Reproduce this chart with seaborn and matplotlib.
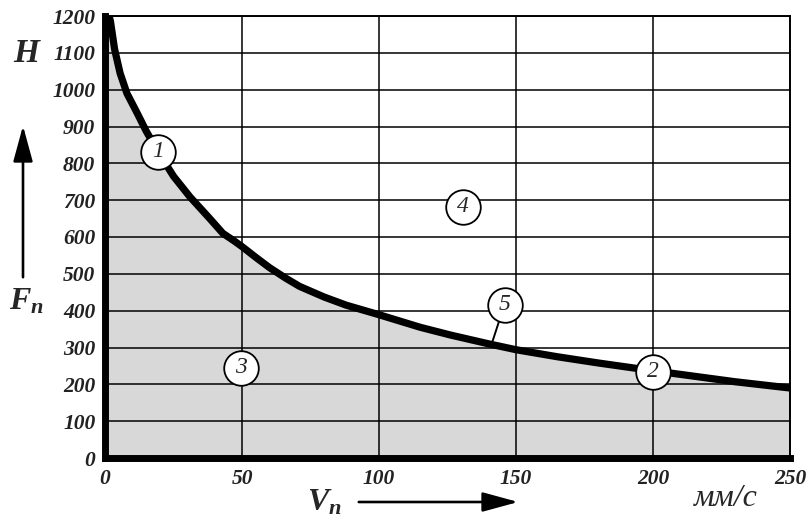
import numpy as np
import pandas as pd
import matplotlib
matplotlib.use("Agg")
import matplotlib.pyplot as plt
from matplotlib.patches import FancyArrowPatch
import seaborn as sns

# curve F_n(V_n)
speed = [1.5, 2, 3.5, 5.5, 8, 11.7, 15, 19.4, 25, 31, 38, 43, 47, 50, 55, 60,
         66, 71, 80, 88, 100, 115, 126, 140, 150, 165, 180, 200, 215, 230, 250]
force = [1200, 1185, 1110, 1045, 990, 937, 888, 831, 765, 709, 652, 610, 590,
         574, 545, 517, 488, 466, 437, 415, 389, 355, 334, 310, 294, 275, 258,
         237, 222, 207, 190]

# numbered callouts: label, V, F
marks = ["1", "2", "3", "4", "5"]
mark_v = [19.5, 200, 49.5, 130.5, 146]
mark_f = [831, 234, 245, 682, 416]

x_ticks = [0, 50, 100, 150, 200, 250]
y_ticks = list(range(0, 1300, 100))

sns.set_theme(style="white")
plt.rcParams["font.family"] = ["Liberation Serif", "DejaVu Serif"]
plt.rcParams["mathtext.fontset"] = "custom"
plt.rcParams["mathtext.it"] = "Liberation Serif:italic:bold"
plt.rcParams["mathtext.rm"] = "Liberation Serif:bold"

df = pd.DataFrame({"V": speed, "F": force})

fig = plt.figure(figsize=(8.1, 5.2), dpi=100)
ax = fig.add_axes([105 / 810, 1 - 458 / 520, 685 / 810, 442 / 520])

ax.fill_between(df["V"], df["F"], 0, color="#d8d8d8", zorder=0)
ax.fill_between([0, df["V"].iloc[0]], [1200, 1200], 0, color="#d8d8d8", zorder=0)
sns.lineplot(data=df, x="V", y="F", color="black", linewidth=5.2, ax=ax,
             zorder=3, solid_capstyle="butt")

ax.set_xlim(0, 250)
ax.set_ylim(0, 1200)
ax.set_xticks(x_ticks)
ax.set_yticks(y_ticks)
ax.grid(True, color="black", linewidth=1.1)
ax.set_axisbelow(False)
for line in ax.get_xgridlines() + ax.get_ygridlines():
    line.set_zorder(1)
ax.set_xlabel("")
ax.set_ylabel("")

for side in ["left", "bottom"]:
    ax.spines[side].set_linewidth(5)
    ax.spines[side].set_color("black")
for side in ["top", "right"]:
    ax.spines[side].set_linewidth(1.4)
    ax.spines[side].set_color("black")

ax.tick_params(length=0, labelsize=15.5)
ax.tick_params(axis="y", pad=7)
ax.tick_params(axis="x", pad=8)
for lab in ax.get_xticklabels() + ax.get_yticklabels():
    lab.set_fontstyle("italic")
    lab.set_fontweight("bold")
    lab.set_color("#222222")

# leader line for callout 5
ax.plot([141, 144.2], [307, 380], color="black", linewidth=1.4, zorder=4)

ax.scatter(mark_v, mark_f, s=620, facecolor="white", edgecolor="black",
           linewidth=1.3, zorder=5)
for lab, v, f in zip(marks, mark_v, mark_f):
    ax.text(v, f, lab, ha="center", va="center", fontsize=17,
            fontstyle="italic", zorder=6)

# axis names and arrows
fig.text(26 / 810, 1 - 53 / 520, "H", fontsize=24, fontstyle="italic",
         fontweight="bold", ha="center", va="center")
fig.text(26 / 810, 1 - 302 / 520, r"$F_n$", fontsize=23, ha="center",
         va="center")
fig.text(324 / 810, 1 - 503 / 520, r"$V_n$", fontsize=23, ha="center",
         va="center")
fig.text(726 / 810, 1 - 498 / 520, "мм/с", fontsize=23, fontstyle="italic",
         ha="center", va="center")

arrow_style = "-|>,head_length=22,head_width=6"
fig.add_artist(FancyArrowPatch(
    (23 / 810, 1 - 280 / 520), (23 / 810, 1 - 123 / 520),
    transform=fig.transFigure, arrowstyle=arrow_style,
    color="black", linewidth=1.9, mutation_scale=1))
fig.add_artist(FancyArrowPatch(
    (356 / 810, 1 - 502 / 520), (521 / 810, 1 - 502 / 520),
    transform=fig.transFigure, arrowstyle=arrow_style,
    color="black", linewidth=1.9, mutation_scale=1))

fig.savefig("out.png", dpi=100, facecolor="white")
